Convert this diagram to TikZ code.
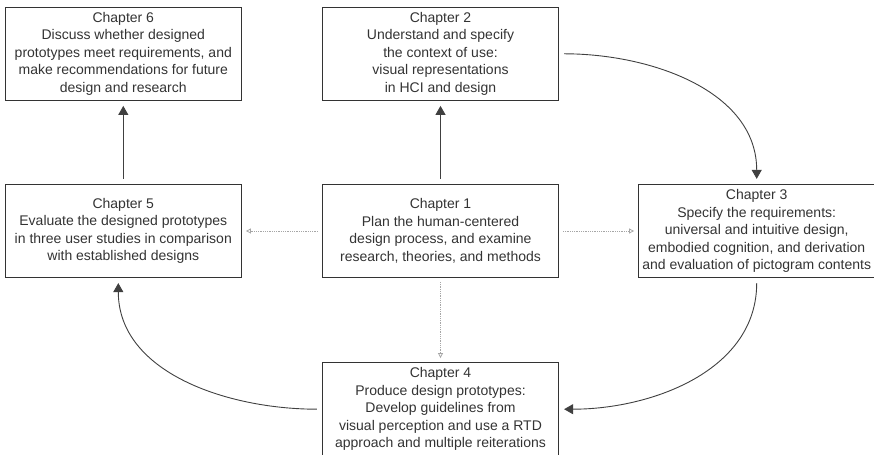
\documentclass[tikz,border=0pt]{standalone}
\usepackage{fontspec}
\setmainfont{Liberation Sans}
\usetikzlibrary{arrows.meta, positioning}

\begin{document}
\begin{tikzpicture}[
    x=1bp, y=1bp,
    >={Triangle[length=9bp,width=10bp]},
    chapter/.style={
        draw=black!80,
        line width=1.2bp,
        rectangle,
        minimum height=93bp,
        minimum width=236bp,
        inner sep=2bp,
        align=center,
        text=black!80,
        font=\fontsize{14bp}{17.5bp}\selectfont
    },
    arrow/.style={->, draw=black!75, line width=0.9bp, shorten >=5bp, shorten <=5bp},
    link/.style={-{Triangle[open,length=5bp,width=5bp]}, draw=black!35, densely dotted, line width=0.8bp, shorten >=4bp, shorten <=4bp}
]

\useasboundingbox (0,0) rectangle (874,455);

\node[chapter] (ch1) at (440.5,224) {Chapter 1\\Plan the human-centered\\design process, and examine\\research, theories, and methods};
\node[chapter, above=83bp of ch1] (ch2) {Chapter 2\\Understand and specify\\the context of use:\\visual representations\\in HCI and design};
\node[chapter, right=79bp of ch1] (ch3) {Chapter 3\\Specify the requirements:\\universal and intuitive design,\\embodied cognition, and derivation\\and evaluation of pictogram contents};
\node[chapter, below=84bp of ch1] (ch4) {Chapter 4\\Produce design prototypes:\\Develop guidelines from\\visual perception and use a RTD\\approach and multiple reiterations};
\node[chapter, left=80bp of ch1] (ch5) {Chapter 5\\Evaluate the designed prototypes\\in three user studies in comparison\\with established designs};
\node[chapter, above=83bp of ch5] (ch6) {Chapter 6\\Discuss whether designed\\prototypes meet requirements, and\\make recommendations for future\\design and research};

\draw[arrow] (ch1) -- (ch2);
\draw[arrow] (ch2.east) to[out=0,in=90] (ch3.north);
\draw[arrow] (ch3.south) to[out=-90,in=0] (ch4.east);
\draw[arrow] (ch4.west) to[out=180,in=-90] ([xshift=-5bp]ch5.south);
\draw[arrow] (ch5) -- (ch6);

% dotted links out of chapter 1
\draw[link] (ch1) -- (ch5);
\draw[link] (ch1) -- (ch3);
\draw[link] (ch1) -- (ch4);

\end{tikzpicture}
\end{document}
